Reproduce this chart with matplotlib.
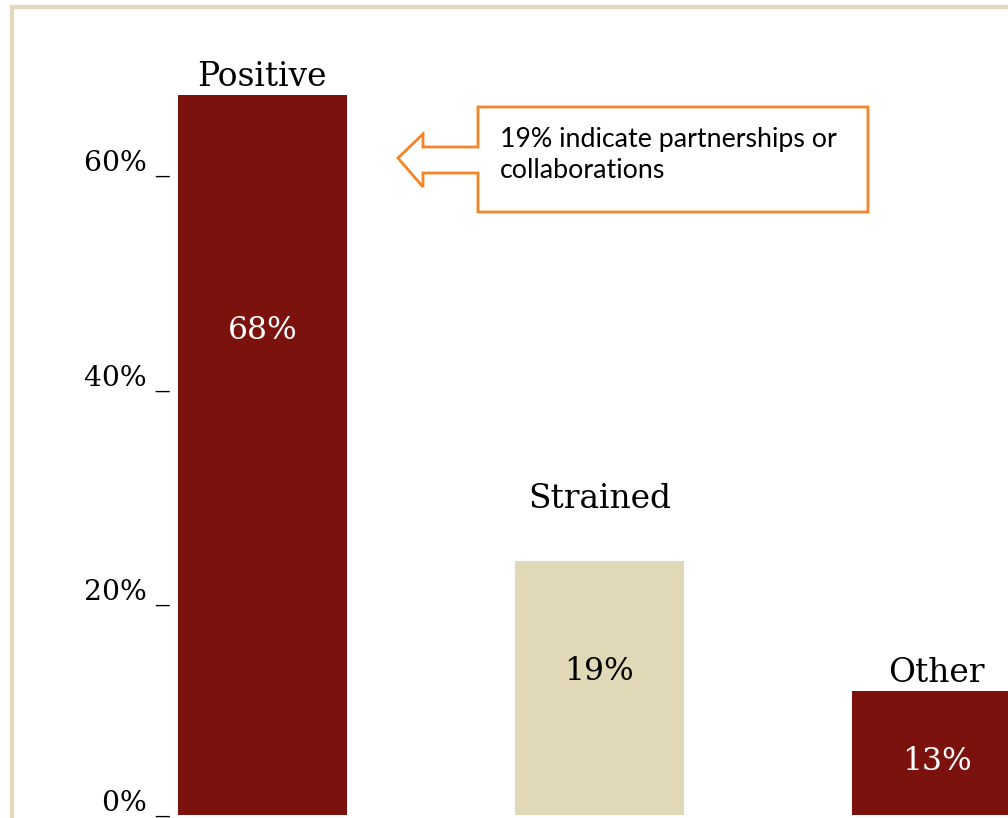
import matplotlib.pyplot as plt
import matplotlib.transforms as mtransforms
from matplotlib.patches import Polygon, Rectangle

# data
categories = ["Positive", "Strained", "Other"]
bar_heights = [67.3, 23.7, 11.6]       # drawn height of each bar (%)
bar_labels = ["68%", "19%", "13%"]      # printed values
bar_colors = ["#7B120E", "#E0D8B7", "#7B120E"]
label_colors = ["white", "black", "white"]
yticks = [0, 20, 40, 60]
note = "19% indicate partnerships or\ncollaborations"

# layout (not data)
inner_label_y = [45.3, 13.4, 5.0]
name_gap_pt = [1, 33, 1.5]

W, H = 1008, 818
fig = plt.figure(figsize=(W / 100, H / 100), dpi=100)
fig.patch.set_facecolor("white")

def px(x, y):
    return x / W, 1 - y / H

ax = fig.add_axes([178 / W, 0, (1008 - 178) / W, 808 / H])
x = range(len(categories))
bars = ax.bar(x, bar_heights, width=0.5, color=bar_colors, zorder=2)
ax.set_xlim(-0.25, 2.212)
ax.set_ylim(-0.28, 75.2)

for s in ax.spines.values():
    s.set_visible(False)
ax.set_xticks([])
ax.set_yticks(yticks)
ax.set_yticklabels([f"{v}% _" for v in yticks], fontsize=20.3, family="DejaVu Serif")
ax.tick_params(axis="y", length=0, pad=6)
for t, v in zip(ax.get_yticklabels(), yticks):
    # lift the bottom label a bit so its underscore stays inside the picture
    up = 4 if v == 0 else 1.5
    t.set_va("baseline")
    t.set_transform(t.get_transform() +
                    mtransforms.ScaledTranslation(0, up / 100, fig.dpi_scale_trans))

for i, b in enumerate(bars):
    cx = b.get_x() + b.get_width() / 2
    ax.annotate(categories[i], (cx, bar_heights[i]), xytext=(0, name_gap_pt[i]),
                textcoords="offset points", ha="center", va="bottom",
                fontsize=23.7, family="DejaVu Serif", annotation_clip=False)
    ax.text(cx, inner_label_y[i], bar_labels[i], ha="center", va="center",
            fontsize=22.5, family="DejaVu Serif", color=label_colors[i])

# callout shape with arrow pointing at the first bar
pts = [(478, 107), (868, 107), (868, 212), (478, 212), (478, 173), (423, 173),
       (423, 187), (398, 158), (423, 134), (423, 147), (478, 147)]
fig.patches.append(Polygon([px(a, b) for a, b in pts], closed=True, fill=True,
                           facecolor="white", edgecolor="#F58426", lw=2,
                           transform=fig.transFigure, figure=fig, zorder=5))
fig.text(*px(500, 155), note, ha="left", va="center", fontsize=19.3,
         family="Lato", linespacing=1.35, zorder=6)

# beige frame, cut off at right and bottom
fig.patches.append(Rectangle(px(11.5, 900), 1200 / W, (900 - 6.5) / H,
                             fill=False, edgecolor="#E2D9BD", lw=3,
                             transform=fig.transFigure, figure=fig, zorder=1))

fig.savefig("out.png", dpi=100)
